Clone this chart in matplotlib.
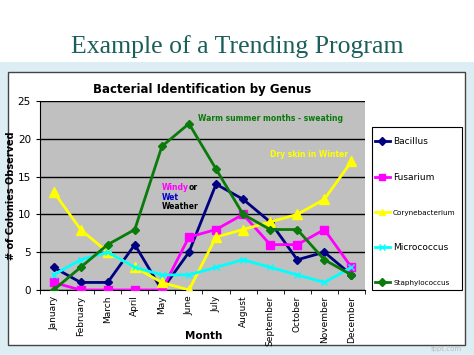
import matplotlib
matplotlib.use("Agg")
import matplotlib.pyplot as plt
from matplotlib.patches import Rectangle

months = ["January", "February", "March", "April", "May", "June", "July",
          "August", "September", "October", "November", "December"]
bacillus = [3, 1, 1, 6, 0, 5, 14, 12, 9, 4, 5, 2]
fusarium = [1, 0, 0, 0, 0, 7, 8, 10, 6, 6, 8, 3]
coryne = [13, 8, 5, 3, 1, 0, 7, 8, 9, 10, 12, 17]
micrococcus = [2, 4, 5, 3, 2, 2, 3, 4, 3, 2, 1, 3]
staph = [0, 3, 6, 8, 19, 22, 16, 10, 8, 8, 4, 2]
series_names = ["Bacillus", "Fusarium", "Corynebacterium", "Micrococcus", "Staphylococcus"]

W, H = 474, 355
fig = plt.figure(figsize=(W / 100, H / 100), dpi=100)
fig.patch.set_facecolor("white")

# slide background band
fig.patches.append(Rectangle((0, 0), 1, (H - 62) / H, transform=fig.transFigure,
                             facecolor="#dceef3", edgecolor="none", zorder=0))
# chart box
fig.patches.append(Rectangle((8 / W, (H - 345) / H), (465 - 8) / W, (345 - 72) / H,
                             transform=fig.transFigure, facecolor="white",
                             edgecolor="#444444", linewidth=1.0, zorder=1))
# legend box
fig.patches.append(Rectangle((372 / W, (H - 290) / H), 90 / W, 163 / H,
                             transform=fig.transFigure, facecolor="white",
                             edgecolor="black", linewidth=0.8, zorder=1.5))

fig.text(0.5, (H - 47) / H, "Example of a Trending Program", ha="center", va="center",
         fontsize=18.5, color="#1b5e5a", family="Liberation Serif")

ax = fig.add_axes([40 / W, (H - 290) / H, (365 - 40) / W, (290 - 101) / H])
ax.set_facecolor("#c0c0c0")
ax.set_zorder(2)
x = list(range(len(months)))

styles = [
    (bacillus, "#000080", "D", 4.5),
    (fusarium, "#ff00ff", "s", 6),
    (coryne, "#ffff00", "^", 7),
    (micrococcus, "#00ffff", "x", 5),
    (staph, "#0a7a0a", "D", 4.5),
]
for (vals, col, mk, ms), name in zip(styles, series_names):
    ax.plot(x, vals, color=col, marker=mk, markersize=ms, linewidth=2,
            markeredgecolor=col, markerfacecolor=col, label=name, zorder=3)

ax.set_xlim(-0.5, 11.5)
ax.set_ylim(0, 25)
ax.set_yticks([0, 5, 10, 15, 20, 25])
ax.yaxis.grid(True, color="black", linewidth=1)
ax.set_axisbelow(True)
ax.set_xticks(x)
ax.set_xticklabels(months, rotation=90, fontsize=6.5)
ax.tick_params(axis="x", length=0, pad=4)
ax.tick_params(axis="y", labelsize=7.5, length=3)
ax.set_xticks([i + 0.5 for i in range(-1, 12)], minor=True)
ax.tick_params(axis="x", which="minor", length=3, direction="out")
for s in ["top", "right"]:
    ax.spines[s].set_visible(False)
ax.spines["left"].set_color("black")
ax.spines["bottom"].set_color("black")

ax.set_title("Bacterial Identification by Genus", fontsize=8.5, fontweight="bold", pad=6)
ax.set_ylabel("# of Colonies Observed", fontsize=7, fontweight="bold")
ax.yaxis.set_label_coords((16 - 40) / (365 - 40), 0.5)
fig.text(204 / W, (H - 336) / H, "Month", ha="center", va="center", fontsize=7.5,
         fontweight="bold", zorder=3)

# annotations
ax.text(8.0, 22.7, "Warm summer months - sweating", color="#0a7a0a", fontsize=5.5,
        fontweight="bold", ha="center", va="center")
ax.text(9.45, 17.9, "Dry skin in Winter", color="#ffff00", fontsize=5.5,
        fontweight="bold", ha="center", va="center")
ax.text(4.0, 13.5, "Windy", color="#ff00ff", fontsize=5.5, fontweight="bold",
        ha="left", va="center")
ax.text(4.98, 13.5, "or", color="black", fontsize=5.5, fontweight="bold",
        ha="left", va="center")
ax.text(4.0, 12.3, "Wet", color="#0000cc", fontsize=5.5, fontweight="bold",
        ha="left", va="center")
ax.text(4.0, 11.0, "Weather", color="black", fontsize=5.5, fontweight="bold",
        ha="left", va="center")

leg = fig.legend(loc="upper left", bbox_to_anchor=(373 / W, (H - 135) / H),
                 fontsize=6, labelspacing=3.25, handlelength=1.8, frameon=False,
                 borderpad=0.2, handletextpad=0.4, borderaxespad=0)
leg.set_zorder(4)
for ln in leg.get_lines():
    ln.set_markersize(4)
for t in leg.get_texts():
    if t.get_text() in ("Corynebacterium", "Staphylococcus"):
        t.set_fontsize(5.2)
    else:
        t.set_fontsize(6.5)

fig.text(462 / W, (H - 349) / H, "fppt.com", ha="right", va="center", fontsize=5,
         color="#bbbbbb")

fig.savefig("out.png", dpi=100)
